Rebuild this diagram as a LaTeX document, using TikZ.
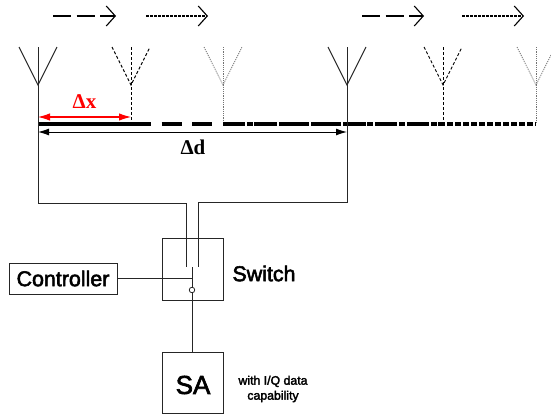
\documentclass[tikz,border=0pt]{standalone}
\usepackage{fontspec}
\setmainfont{Liberation Sans}
\newfontfamily\fakebold[FakeBold=2.5]{Liberation Sans}
\newfontfamily\deltafont{Liberation Serif}
\usetikzlibrary{arrows.meta,calc}
\definecolor{dotgrey}{gray}{0.45}
\tikzset{
  wire/.style={draw=black!85,line width=1pt},
  boxnode/.style={draw=black!85,line width=1pt,inner sep=0pt,anchor=north west},
  solidant/.style={draw=black!85,line width=1pt},
  dashant/.style={draw=black,line width=0.9pt,dash pattern=on 3pt off 2pt},
  dotant/.style={draw=dotgrey,line width=0.7pt,dash pattern=on 1.2pt off 1pt},
  moveA/.style={line width=1.1pt,dash pattern=on 18pt off 5.5pt,-{Straight Barb[length=9pt,width=20pt,line width=1.1pt]}},
  moveB/.style={line width=1.1pt,dash pattern=on 2.5pt off 1.5pt,-{Straight Barb[length=9pt,width=20pt,line width=1.1pt]}},
  railA/.style={line width=3.3pt},
  railB/.style={line width=3.3pt,dash pattern=on 20pt off 10.7pt},
  railC/.style={line width=3.3pt,dash pattern=on 5.5pt off 2.5pt},
  reddim/.style={red,line width=1.1pt,{Latex[length=12pt,width=7.5pt]}-{Latex[length=12pt,width=7.5pt]}},
  blackdim/.style={black,line width=1pt,{Latex[length=11pt,width=7pt]}-{Latex[length=11pt,width=7pt]}},
  big/.style={font=\fakebold\fontsize{21.4}{23}\selectfont,inner sep=0pt},
  small/.style={font=\fakebold\fontsize{12.3}{15}\selectfont,inner sep=0pt,align=center},
  dlabel/.style={font=\deltafont\bfseries\fontsize{21}{23}\selectfont,inner sep=0pt},
}
\begin{document}
\begin{tikzpicture}[x=1pt,y=-1pt]
\useasboundingbox (0,0) rectangle (551,415);
% motion arrows
\coordinate (m1a) at (53,16); \coordinate (m1b) at (116,16);
\coordinate (m2a) at (146,16); \coordinate (m2b) at (208,16);
\coordinate (m3a) at (362,16); \coordinate (m3b) at (424,16);
\coordinate (m4a) at (462,16); \coordinate (m4b) at (524,16);
\draw[moveA] (m1a) -- (m1b);
\draw[moveB] (m2a) -- (m2b);
\draw[moveA] (m3a) -- (m3b);
\draw[moveB] (m4a) -- (m4b);
% antennas: tip, left and right arm ends, foot on the rail
\foreach \n/\x/\st in {a/38/solidant,b/131/dashant,c/223/dotant,d/347/solidant,e/443/dashant,f/536/dotant}{
  \coordinate (\n top) at (\x,47);
  \coordinate (\n tip) at (\x,85);
  \coordinate (\n rail) at (\x,124);
  \draw[\st] (\x-19,47) -- (\n tip) -- (\x+19,47);
}
\draw[dashant] (btop) -- (brail);
\draw[dotant] (ctop) -- (crail);
\draw[dashant] (etop) -- (erail);
\draw[dotant] (ftop) -- (frail);
% rail
\draw[railA] (arail) -- (brail);
\draw[railB] (brail) -- (erail);
\draw[railC] (crail) -- (frail);
% dimensions
\coordinate (rl) at (38,117); \coordinate (rr) at (131,117);
\coordinate (bl) at (38,132); \coordinate (br) at (347,132);
\draw[reddim] (rl) -- (rr);
\draw[blackdim] (bl) -- (br);
\node[dlabel,text=red] (dx) at (84.5,102) {Δx};
\node[dlabel] (dd) at (193,147) {Δd};
% boxes
\node[boxnode,minimum width=61pt,minimum height=62pt] (sw) at (162,238) {};
\node[boxnode,minimum width=108pt,minimum height=31pt] (ctl) at (9,263) {};
\node[boxnode,minimum width=61pt,minimum height=61pt] (sa) at (162,352) {};
\node[big] (ctltext) at (63,278.5) {Controller};
\node[big] (swtext) at (264,273.5) {Switch};
\node[font=\fakebold\fontsize{26}{28}\selectfont,inner sep=0pt] (satext) at (193,385) {SA};
\node[small] (iq) at (273,389) {with I/Q data\\capability};
% switch contacts
\coordinate (c1) at (186,267);
\coordinate (c2) at (198,267);
\coordinate (arm) at (192,267);
\node[circle,draw=black!85,fill=white,line width=0.8pt,minimum size=5.5pt,inner sep=0pt] (pivot) at (192,290) {};
% feed wires
\draw[wire] (atop) -- (38,203) -| (c1);
\draw[wire] (dtop) -- (347,202) -| (c2);
\draw[wire] (arm) -- (pivot);
\draw[wire] (pivot) -- (192,352);
\draw[wire] (117,278) -- (192,278);
\end{tikzpicture}
\end{document}
